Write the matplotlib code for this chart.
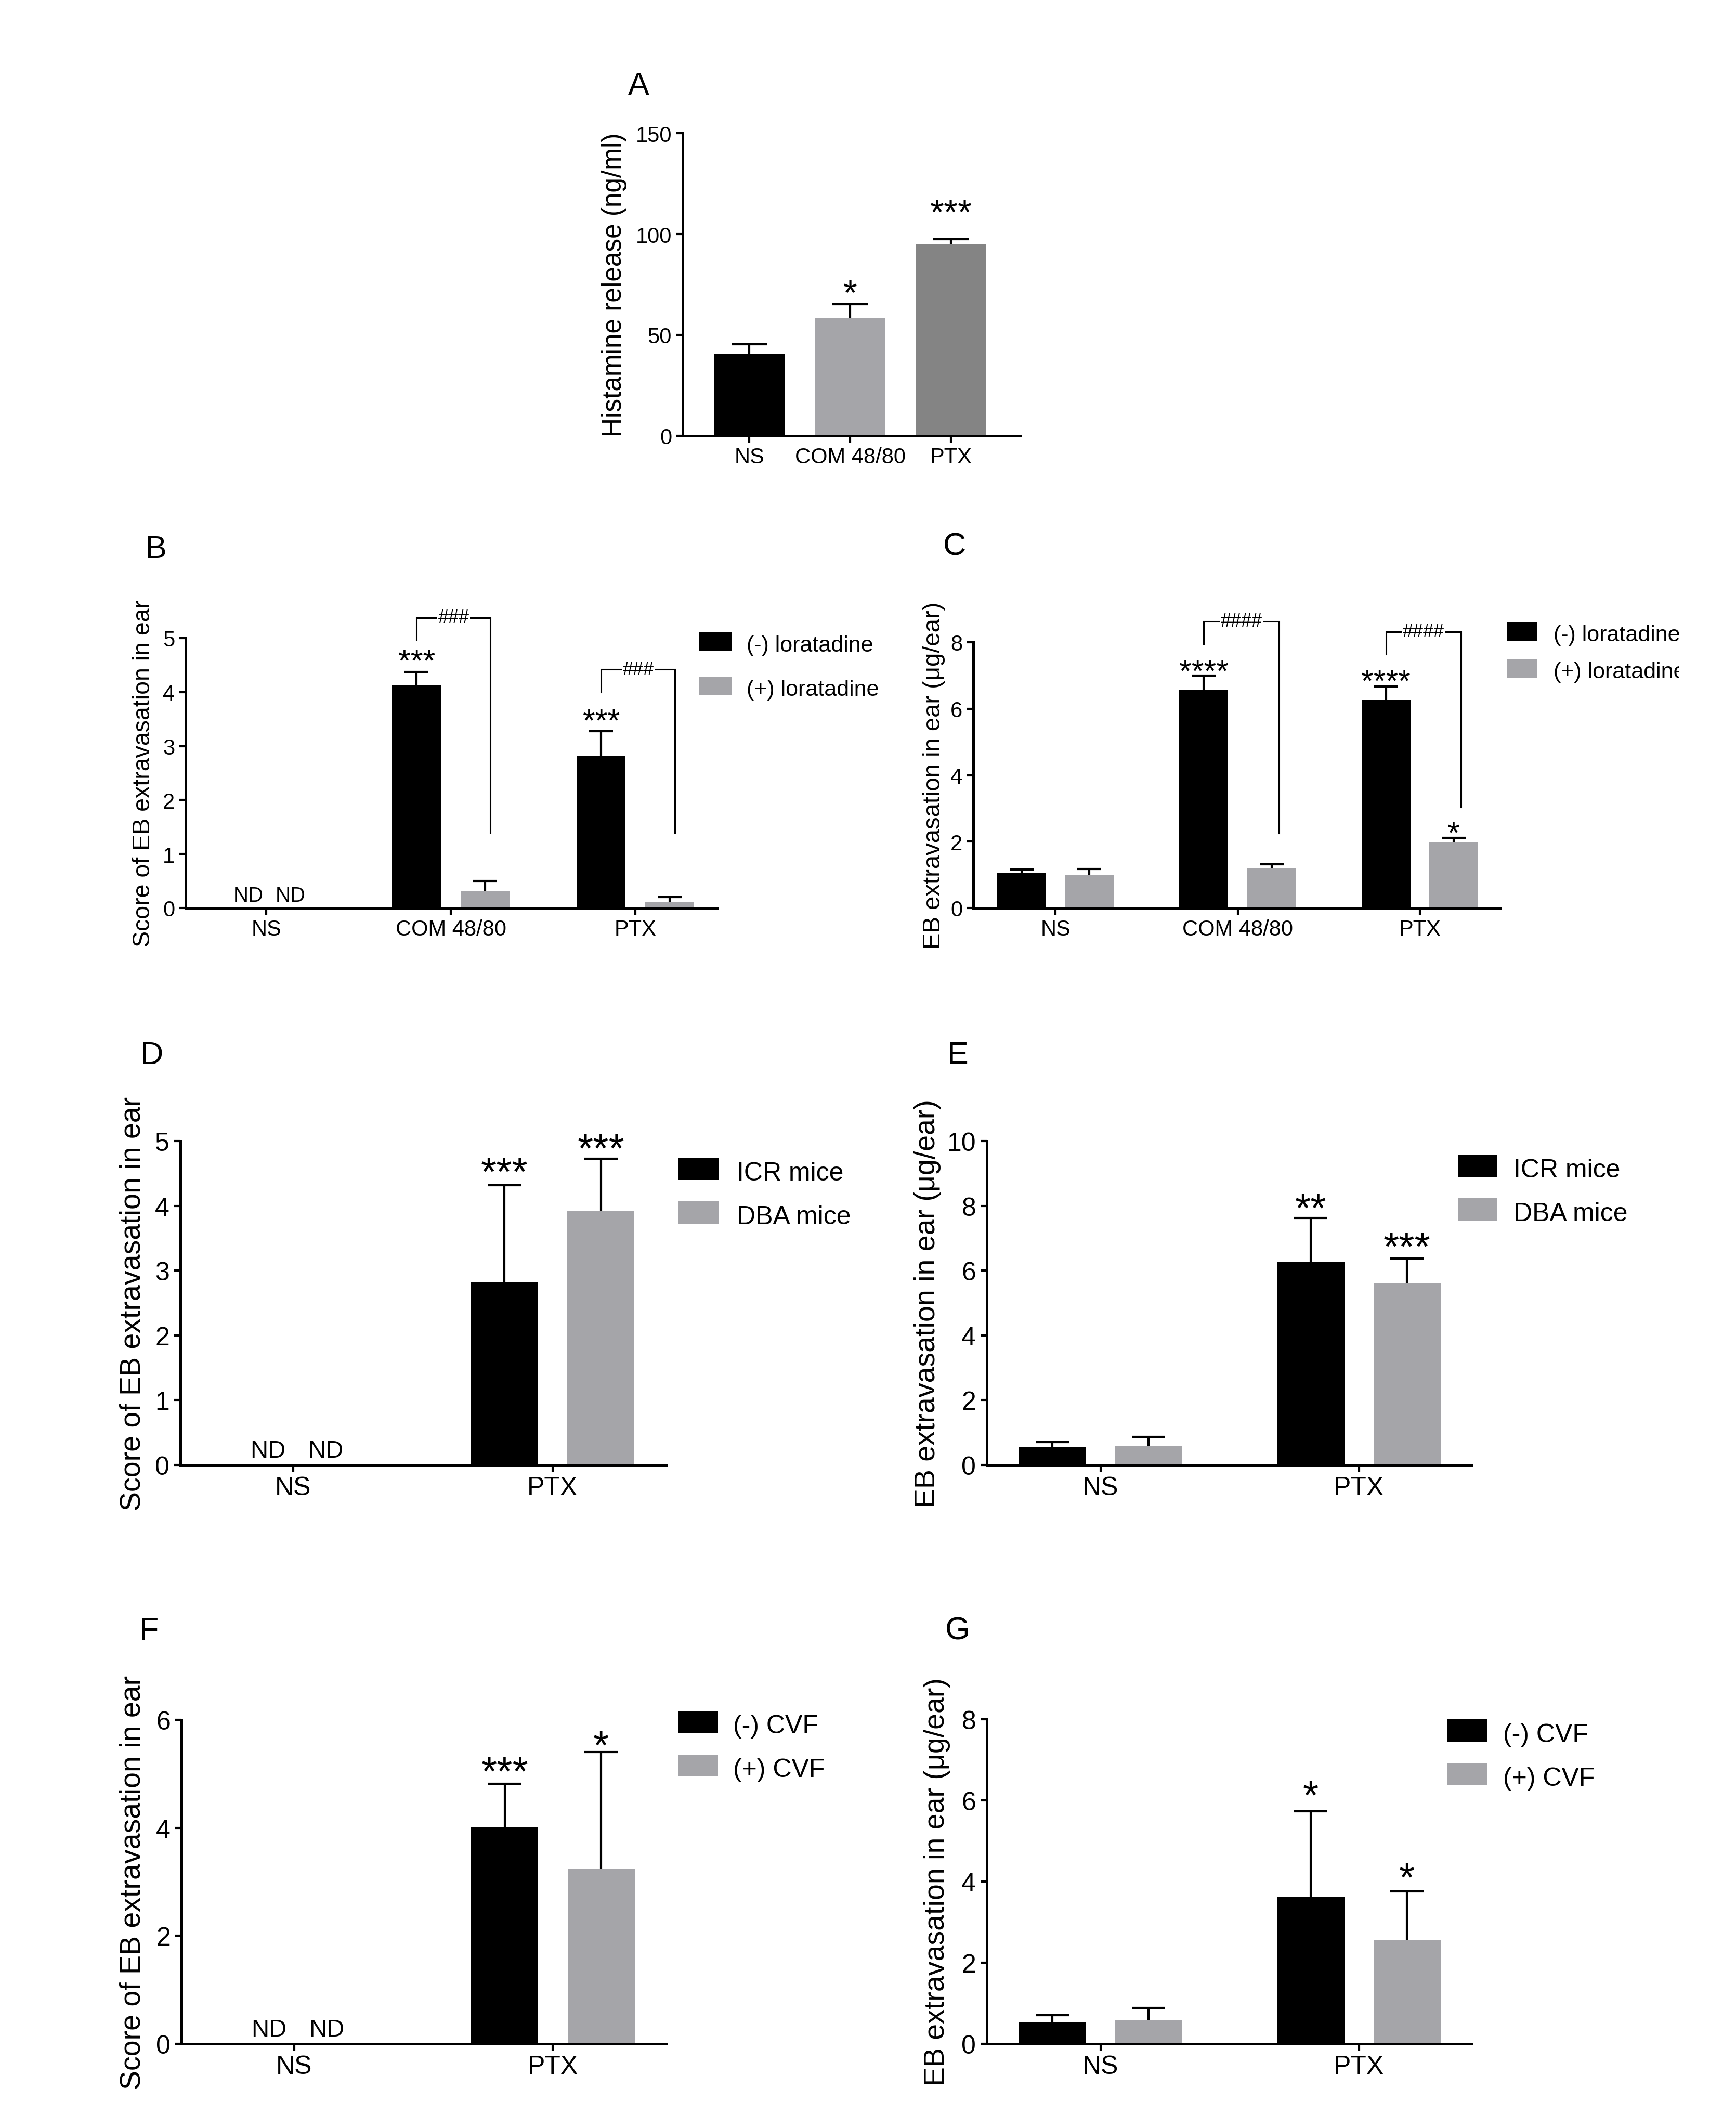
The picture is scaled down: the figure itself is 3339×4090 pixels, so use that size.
import numpy as np
import matplotlib
matplotlib.use("Agg")
import matplotlib.pyplot as plt
from matplotlib.patches import Rectangle
from matplotlib.transforms import Bbox

plt.rcParams['font.family'] = ['Liberation Sans', 'DejaVu Sans']

# ---------------- data ----------------
# A: histamine release
A_groups = ['NS', 'COM 48/80', 'PTX']
A_mean = [40.4, 58.3, 95.0]
A_err = [5.0, 7.0, 2.3]
A_stars = ['', '*', '***']
A_star_y = [0, 74, 114]

# B: score of EB extravasation, +/- loratadine
B_groups = ['NS', 'COM 48/80', 'PTX']
B_minus = [0, 4.12, 2.81]
B_minus_err = [0, 0.25, 0.47]
B_plus = [0, 0.32, 0.11]
B_plus_err = [0, 0.18, 0.09]
B_minus_stars = ['', '***', '***']
B_minus_star_y = [0, 4.69, 3.58]
B_nd = [True, False, False]
B_hash = ['', '###', '###']
B_bracket = [None, (4.97, 5.38, 1.40), (4.00, 4.42, 1.40)]

# C: EB extravasation (ug/ear), +/- loratadine
C_groups = ['NS', 'COM 48/80', 'PTX']
C_minus = [1.07, 6.56, 6.27]
C_minus_err = [0.09, 0.44, 0.40]
C_plus = [0.99, 1.19, 1.97]
C_plus_err = [0.18, 0.12, 0.15]
C_minus_stars = ['', '****', '****']
C_minus_star_y = [0, 7.3, 7.0]
C_plus_stars = ['', '', '*']
C_plus_star_y = [0, 0, 2.44]
C_hash = ['', '####', '####']
C_bracket = [None, (7.96, 8.63, 2.26), (7.64, 8.32, 3.03)]

# D: score, ICR vs DBA mice
D_groups = ['NS', 'PTX']
D_icr = [0, 2.82]
D_icr_err = [0, 1.50]
D_dba = [0, 3.92]
D_dba_err = [0, 0.81]
D_icr_stars = ['', '***']
D_icr_star_y = [0, 4.63]
D_dba_stars = ['', '***']
D_dba_star_y = [0, 4.99]
D_nd = [True, False]

# E: ug/ear, ICR vs DBA mice
E_groups = ['NS', 'PTX']
E_icr = [0.55, 6.28]
E_icr_err = [0.16, 1.34]
E_dba = [0.59, 5.62]
E_dba_err = [0.28, 0.75]
E_icr_stars = ['', '**']
E_icr_star_y = [0, 8.13]
E_dba_stars = ['', '***']
E_dba_star_y = [0, 6.95]

# F: score, +/- CVF
F_groups = ['NS', 'PTX']
F_neg = [0, 4.02]
F_neg_err = [0, 0.80]
F_pos = [0, 3.25]
F_pos_err = [0, 2.15]
F_neg_stars = ['', '***']
F_neg_star_y = [0, 5.17]
F_pos_stars = ['', '*']
F_pos_star_y = [0, 5.65]
F_nd = [True, False]

# G: ug/ear, +/- CVF
G_groups = ['NS', 'PTX']
G_neg = [0.54, 3.61]
G_neg_err = [0.16, 2.12]
G_pos = [0.58, 2.55]
G_pos_err = [0.30, 1.21]
G_neg_stars = ['', '*']
G_neg_star_y = [0, 6.29]
G_pos_stars = ['', '*']
G_pos_star_y = [0, 4.26]

BLACK = '#000000'
GRAY = '#A5A5A9'
DARK = '#848484'

W, H = 3339, 4091
fig = plt.figure(figsize=(W / 100, H / 100), dpi=100)
PT = 0.72  # points per pixel at dpi 100


def make_ax(left, right, top, bottom, xlim, ylim, yticks, groups,
            tick_fs, ylabel, ylab_fs, ylab_dx):
    ax = fig.add_axes([left / W, 1 - bottom / H, (right - left) / W, (bottom - top) / H])
    ax.set_xlim(*xlim)
    ax.set_ylim(*ylim)
    ax.set_yticks(yticks)
    ax.set_xticks(np.arange(len(groups)))
    ax.set_xticklabels(groups)
    for s in ['top', 'right']:
        ax.spines[s].set_visible(False)
    for s in ['left', 'bottom']:
        ax.spines[s].set_linewidth(3.6)
        ax.spines[s].set_zorder(4)
    ax.tick_params(labelsize=tick_fs, length=9, width=3, pad=6)
    ax.set_ylabel(ylabel, fontsize=ylab_fs, va='center')
    ax.yaxis.set_label_coords(-ylab_dx / (right - left), 0.5)
    return ax


def err_bars(ax, x, vals, errs, cap_pt):
    # symmetric bars drawn behind the columns, so only the upper half shows
    x = np.asarray(x, float)
    vals = np.asarray(vals, float)
    errs = np.asarray(errs, float)
    m = errs > 0
    ax.errorbar(x[m], vals[m], yerr=errs[m], fmt='none', ecolor='black',
                elinewidth=3, capsize=cap_pt, capthick=3, zorder=1)


def stars(ax, x, labels, ys, fs):
    for xi, s, y in zip(x, labels, ys):
        if s:
            ax.annotate(s, (xi, y), xytext=(0, -0.49 * fs), textcoords='offset points',
                        ha='center', va='baseline', fontsize=fs, annotation_clip=False)


def nd(ax, x, flags, offs, fs, pad_pt):
    for xi, f in zip(x, flags):
        if f:
            for o in offs:
                ax.annotate('ND', (xi + o, 0), xytext=(0, pad_pt), textcoords='offset points',
                            ha='center', va='baseline', fontsize=fs)


def brackets(ax, xl, xr, specs, texts, fs):
    for a, b, spec, t in zip(xl, xr, specs, texts):
        if spec is None:
            continue
        yl, yt, yr = spec
        ax.plot([a, a, b, b], [yl, yt, yt, yr], color='black', lw=2.2,
                clip_on=False, solid_joinstyle='miter')
        ax.text((a + b) / 2, yt, t, ha='center', va='center', fontsize=fs,
                bbox=dict(facecolor='white', edgecolor='none', pad=1), clip_on=False)


def legend(x0, w, h, row_bottoms, labels, colors, tx, fs, clip_x=None):
    for yb, lab, col in zip(row_bottoms, labels, colors):
        fig.add_artist(Rectangle((x0 / W, 1 - yb / H), w / W, h / H,
                                 transform=fig.transFigure, color=col, lw=0))
        t = fig.text(tx / W, 1 - yb / H, lab, ha='left', va='baseline', fontsize=fs)
        if clip_x is not None:
            t.set_clip_box(Bbox([[0, 0], [clip_x, H]]))
            t.set_clip_on(True)


def letter(x, y, s):
    fig.text(x / W, 1 - (y + 22) / H, s, ha='center', va='baseline', fontsize=44)


# ---------------- A ----------------
axA = make_ax(1313, 1962, 257, 839, (-0.66, 2.685), (0, 150), [0, 50, 100, 150],
              A_groups, 30, 'Histamine release (ng/ml)', 37, 132)
xA = np.arange(len(A_groups))
axA.bar(xA, A_mean, 0.70, color=[BLACK, GRAY, DARK], zorder=2)
err_bars(axA, xA, A_mean, A_err, 0.25 * 136 * PT)
stars(axA, xA, A_stars, A_star_y, 50)
letter(1228, 160, 'A')

SCORE = 'Score of EB extravasation in ear'
UG = 'EB extravasation in ear (\u03bcg/ear)'

# ---------------- B ----------------
axB = make_ax(357, 1379, 1228, 1747, (-0.437, 2.442), (0, 5), range(6),
              B_groups, 30, SCORE, 33.5, 81)
xB = np.arange(len(B_groups))
o, w = 0.185, 0.265
axB.bar(xB - o, B_minus, w, color=BLACK, zorder=2)
axB.bar(xB + o, B_plus, w, color=GRAY, zorder=2)
err_bars(axB, xB - o, B_minus, B_minus_err, 0.25 * 94 * PT)
err_bars(axB, xB + o, B_plus, B_plus_err, 0.25 * 94 * PT)
stars(axB, xB - o, B_minus_stars, B_minus_star_y, 44)
nd(axB, xB, B_nd, (-0.096, 0.13), 29, 9)
brackets(axB, xB - o, xB + o + 0.03, B_bracket, B_hash, 26)
legend(1345, 63, 36, [1253, 1338], ['(-) loratadine', '(+) loratadine'],
       [BLACK, GRAY], 1436, 31)
letter(300, 1051, 'B')

# ---------------- C ----------------
axC = make_ax(1872, 2886, 1236, 1747, (-0.451, 2.442), (0, 8), [0, 2, 4, 6, 8],
              C_groups, 30, UG, 34, 76)
xC = np.arange(len(C_groups))
o, w = 0.186, 0.268
axC.bar(xC - o, C_minus, w, color=BLACK, zorder=2)
axC.bar(xC + o, C_plus, w, color=GRAY, zorder=2)
err_bars(axC, xC - o, C_minus, C_minus_err, 0.25 * 94 * PT)
err_bars(axC, xC + o, C_plus, C_plus_err, 0.25 * 94 * PT)
stars(axC, xC - o, C_minus_stars, C_minus_star_y, 44)
stars(axC, xC + o, C_plus_stars, C_plus_star_y, 44)
brackets(axC, xC - o, xC + o + 0.04, C_bracket, C_hash, 26)
legend(2898, 59, 35, [1233, 1304], ['(-) loratadine', '(+) loratadine'],
       [BLACK, GRAY], 2988, 31, clip_x=3230)
letter(1836, 1046, 'C')

# ---------------- D ----------------
axD = make_ax(347, 1282, 2195, 2818, (-0.435, 1.439), (0, 5), range(6),
              D_groups, 36, SCORE, 40, 92)
xD = np.arange(len(D_groups))
o, w = 0.186, 0.259
axD.bar(xD - o, D_icr, w, color=BLACK, zorder=2)
axD.bar(xD + o, D_dba, w, color=GRAY, zorder=2)
err_bars(axD, xD - o, D_icr, D_icr_err, 0.25 * 129 * PT)
err_bars(axD, xD + o, D_dba, D_dba_err, 0.25 * 129 * PT)
stars(axD, xD - o, D_icr_stars, D_icr_star_y, 56)
stars(axD, xD + o, D_dba_stars, D_dba_star_y, 56)
nd(axD, xD, D_nd, (-0.097, 0.125), 34, 11)
legend(1305, 78, 43, [2270, 2354], ['ICR mice', 'DBA mice'], [BLACK, GRAY], 1417, 36)
letter(292, 2024, 'D')

# ---------------- E ----------------
axE = make_ax(1898, 2830, 2195, 2818, (-0.44, 1.435), (0, 10), [0, 2, 4, 6, 8, 10],
              E_groups, 36, UG, 40, 114)
xE = np.arange(len(E_groups))
axE.bar(xE - o, E_icr, w, color=BLACK, zorder=2)
axE.bar(xE + o, E_dba, w, color=GRAY, zorder=2)
err_bars(axE, xE - o, E_icr, E_icr_err, 0.25 * 129 * PT)
err_bars(axE, xE + o, E_dba, E_dba_err, 0.25 * 129 * PT)
stars(axE, xE - o, E_icr_stars, E_icr_star_y, 56)
stars(axE, xE + o, E_dba_stars, E_dba_star_y, 56)
legend(2804, 76, 43, [2264, 2348], ['ICR mice', 'DBA mice'], [BLACK, GRAY], 2911, 36)
letter(1842, 2024, 'E')

# ---------------- F ----------------
axF = make_ax(349, 1282, 3308, 3931, (-0.435, 1.439), (0, 6), [0, 2, 4, 6],
              F_groups, 36, SCORE, 40, 93)
xF = np.arange(len(F_groups))
axF.bar(xF - o, F_neg, w, color=BLACK, zorder=2)
axF.bar(xF + o, F_pos, w, color=GRAY, zorder=2)
err_bars(axF, xF - o, F_neg, F_neg_err, 0.25 * 129 * PT)
err_bars(axF, xF + o, F_pos, F_pos_err, 0.25 * 129 * PT)
stars(axF, xF - o, F_neg_stars, F_neg_star_y, 56)
stars(axF, xF + o, F_pos_stars, F_pos_star_y, 56)
nd(axF, xF, F_nd, (-0.097, 0.125), 34, 11)
legend(1305, 76, 42, [3333, 3417], ['(-) CVF', '(+) CVF'], [BLACK, GRAY], 1410, 36)
letter(287, 3131, 'F')

# ---------------- G ----------------
axG = make_ax(1898, 2830, 3307, 3931, (-0.44, 1.435), (0, 8), [0, 2, 4, 6, 8],
              G_groups, 36, UG, 40, 96)
xG = np.arange(len(G_groups))
axG.bar(xG - o, G_neg, w, color=BLACK, zorder=2)
axG.bar(xG + o, G_pos, w, color=GRAY, zorder=2)
err_bars(axG, xG - o, G_neg, G_neg_err, 0.25 * 129 * PT)
err_bars(axG, xG + o, G_pos, G_pos_err, 0.25 * 129 * PT)
stars(axG, xG - o, G_neg_stars, G_neg_star_y, 56)
stars(axG, xG + o, G_pos_stars, G_pos_star_y, 56)
legend(2784, 76, 43, [3350, 3434], ['(-) CVF', '(+) CVF'], [BLACK, GRAY], 2891, 36)
letter(1842, 3131, 'G')

fig.savefig('out.png', dpi=100)
